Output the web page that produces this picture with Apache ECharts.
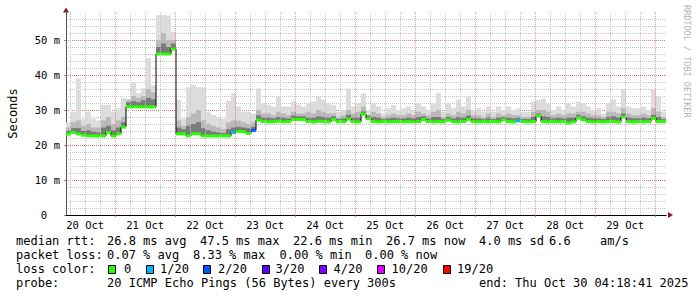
<!DOCTYPE html>
<html><head><meta charset="utf-8">
<script src="https://cdn.jsdelivr.net/npm/echarts@6/dist/echarts.min.js"></script>
<style>html,body{margin:0;padding:0;background:#fff}#c{width:697px;height:297px}</style>
</head><body><div id="c"></div>
<script>
// time in hours since 20 Oct 00:00; graph start = 20 Oct 04:18:41, 10 days, 2 h per bin
const START_HOUR = 4 + 18 / 60 + 41 / 3600;
const SPAN_HOURS = 240;
const STEP_HOURS = 2;

const median = [
  23.1, 23.6, 23.2, 22.8, 22.6, 22.6, 22.6, 22.6, 23.6, 22.6,
  23.2, 25.1, 30.9, 30.9, 30.9, 30.9, 30.9, 30.9, 46.0, 46.0,
  46.0, 47.4, 23.2, 23.2, 22.6, 23.2, 23.2, 22.6, 22.6, 22.6,
  22.6, 22.6, 22.6, 23.6, 23.9, 23.8, 23.3, 24.2, 27.1, 26.7,
  26.6, 26.7, 26.8, 26.6, 26.7, 27.3, 27.3, 27.3, 26.7, 26.6,
  26.8, 26.7, 26.6, 27.3, 26.7, 26.6, 27.4, 26.7, 26.6, 28.8,
  27.5, 26.7, 26.6, 26.7, 26.6, 26.7, 26.7, 26.6, 26.7, 26.6,
  26.7, 27.3, 26.7, 26.6, 26.7, 26.6, 27.1, 26.7, 26.6, 26.7,
  27.3, 26.7, 26.6, 26.7, 26.6, 26.7, 26.6, 27.2, 26.7, 26.6,
  26.9, 26.7, 26.6, 26.7, 28.3, 26.7, 26.6, 26.7, 26.6, 26.7,
  26.3, 26.6, 27.7, 27.2, 26.7, 26.6, 26.7, 26.6, 26.7, 26.7,
  26.6, 28.0, 26.7, 26.6, 26.7, 26.6, 26.7, 27.6, 26.7, 26.7
];
const smokeMax = [
  26.5, 29.5, 39.0, 27.5, 29.5, 27.6, 27.0, 31.5, 31.5, 29.5,
  30.5, 33.4, 32.4, 38.0, 34.8, 36.2, 44.8, 37.0, 57.1, 57.1,
  57.0, 52.4, 32.9, 27.5, 36.5, 37.2, 36.5, 36.5, 29.3, 28.6,
  28.0, 27.5, 32.6, 34.8, 31.0, 29.5, 29.5, 29.0, 36.2, 31.9,
  31.5, 31.0, 33.8, 31.0, 31.0, 32.4, 31.5, 31.0, 32.0, 32.4,
  33.8, 33.0, 32.0, 31.4, 29.5, 30.0, 36.2, 31.0, 32.0, 34.8,
  30.0, 32.0, 31.0, 29.0, 30.5, 31.4, 30.0, 30.5, 31.0, 30.0,
  32.0, 31.0, 30.0, 32.0, 34.8, 29.5, 32.0, 30.5, 33.0, 31.0,
  33.8, 30.0, 30.5, 29.5, 31.0, 29.5, 31.0, 30.0, 31.0, 30.0,
  30.5, 29.5, 29.5, 32.4, 32.9, 33.3, 31.9, 30.0, 31.0, 30.0,
  32.0, 31.0, 32.4, 32.0, 31.0, 30.0, 30.5, 29.0, 32.0, 33.0,
  31.0, 35.9, 31.0, 30.5, 30.5, 31.0, 30.0, 35.9, 33.8, 29.5
];
const smokeMid = [
  25.0, 26.5, 27.0, 25.5, 26.0, 25.0, 25.0, 27.0, 28.0, 26.0,
  27.0, 28.0, 33.0, 34.0, 33.5, 34.0, 36.0, 35.0, 50.0, 52.0,
  50.0, 50.0, 27.0, 25.5, 28.0, 29.0, 30.0, 27.0, 26.0, 25.5,
  25.0, 24.5, 26.5, 27.0, 27.0, 26.5, 26.0, 26.5, 30.0, 29.0,
  29.0, 28.5, 29.5, 29.0, 28.5, 29.5, 29.0, 29.0, 29.5, 29.0,
  30.0, 29.5, 29.0, 29.0, 28.0, 28.5, 30.0, 29.0, 29.5, 31.0,
  28.5, 29.5, 29.0, 28.0, 28.5, 29.0, 28.5, 28.5, 29.0, 28.5,
  29.5, 29.0, 28.5, 29.5, 30.0, 28.0, 29.0, 28.5, 29.5, 29.0,
  30.0, 28.5, 28.5, 28.0, 29.0, 28.0, 29.0, 28.5, 29.0, 28.5,
  28.5, 28.0, 28.0, 29.5, 30.0, 30.0, 29.5, 28.5, 29.0, 28.5,
  29.0, 29.0, 29.5, 29.5, 29.0, 28.5, 28.5, 28.0, 29.5, 29.5,
  29.0, 30.5, 29.0, 28.5, 28.5, 29.0, 28.5, 30.5, 29.5, 28.0
];
const smokeDark = [
  24.0, 24.8, 24.8, 24.0, 24.2, 23.8, 23.6, 25.0, 25.5, 24.2,
  25.0, 26.5, 32.2, 32.5, 32.2, 32.8, 33.5, 33.0, 48.0, 49.0,
  48.0, 49.0, 25.0, 24.5, 25.5, 26.0, 26.5, 24.8, 24.2, 23.8,
  23.6, 23.4, 24.5, 25.0, 25.2, 25.0, 24.8, 25.2, 28.5, 27.8,
  27.8, 27.6, 28.0, 27.8, 27.6, 28.4, 28.2, 28.2, 27.8, 27.8,
  28.2, 28.0, 27.8, 28.2, 27.4, 27.6, 28.6, 27.8, 27.8, 29.6,
  28.4, 28.0, 27.8, 27.4, 27.6, 27.8, 27.6, 27.6, 27.8, 27.6,
  28.0, 28.2, 27.6, 28.0, 28.0, 27.4, 28.0, 27.6, 28.0, 27.8,
  28.4, 27.6, 27.6, 27.4, 27.8, 27.4, 27.8, 28.0, 27.8, 27.6,
  27.8, 27.4, 27.4, 28.0, 29.0, 28.2, 28.0, 27.6, 27.8, 27.6,
  27.8, 27.8, 28.6, 28.2, 27.8, 27.6, 27.6, 27.4, 28.0, 28.2,
  27.8, 29.0, 27.8, 27.6, 27.6, 27.8, 27.6, 28.6, 28.0, 27.4
];
// lost pings (out of 20) per bin
const lossCount = [
  0,0,0,0,0,0,0,0,0,0, 0,0,0,0,0,0,0,0,0,0,
  0,0,0,0,0,0,0,0,0,0, 0,0,0,1,0,0,0,2,0,0,
  0,0,0,0,0,0,0,0,0,0, 0,0,0,0,0,0,0,0,0,0,
  0,0,0,0,0,0,0,0,0,0, 0,0,0,0,0,0,0,0,0,0,
  0,0,0,0,0,0,0,0,0,0, 1,0,0,0,0,0,0,0,0,0,
  0,0,0,0,0,0,0,0,0,0, 0,0,0,0,0,0,0,0,0,0
];

const dayLabels = ['20 Oct','21 Oct','22 Oct','23 Oct','24 Oct','25 Oct','26 Oct','27 Oct','28 Oct','29 Oct'];
const dayLabelHours = [12, 36, 60, 84, 108, 132, 156, 180, 204, 228];
const midnightHours = [24, 48, 72, 96, 120, 144, 168, 192, 216, 240];
const minorHours = [];
for (let h = 6; h < START_HOUR + SPAN_HOURS; h += 6) if (h % 24 !== 0) minorHours.push(h);

const lossLevels = [0, 1, 2, 3, 4, 10, 19];
const lossLabels = ['0', '1/20', '2/20', '3/20', '4/20', '10/20', '19/20'];
const lossColors = ['#26ff00', '#00b8ff', '#0059ff', '#5e00ff', '#7e00ff', '#dd00ff', '#ff0000'];

const legendLines = [
  [[16, 'median rtt:'], [107, '26.8 ms avg'], [200, '47.5 ms max'], [293, '22.6 ms min'], [386, '26.7 ms now'], [479, '4.0 ms sd'], [549, '6.6'], [600, 'am/s']],
  [[16, 'packet loss:'], [107, '0.07 % avg'], [193, '8.33 % max'], [279.5, '0.00 % min'], [365, '0.00 % now']],
  [[16, 'loss color:']],
  [[16, 'probe:'], [107, '20 ICMP Echo Pings (56 Bytes) every 300s'], [479, 'end: Thu Oct 30 04:18:41 2025']]
];
const lossBoxX = [108, 146, 203, 262, 319, 377, 443];
const lossTextX = [124, 160, 218, 275.5, 333.5, 391.5, 457];

const T0 = START_HOUR, T1 = START_HOUR + SPAN_HOURS;
const MONO = '"DejaVu Sans Mono", monospace';

const smokeData = median.map((m, i) => [T0 + i * STEP_HOURS, T0 + (i + 1) * STEP_HOURS, m, smokeMax[i], smokeMid[i], smokeDark[i]]);
const medData = median.map((m, i) => {
  let li = 0;
  lossLevels.forEach((lv, k) => { if (lossCount[i] >= lv) li = k; });
  return [T0 + i * STEP_HOURS, T0 + (i + 1) * STEP_HOURS, m, li];
});
const stepData = median.map((m, i) => [T0 + i * STEP_HOURS, m]);
stepData.push([T1, median[median.length - 1]]);

function renderSmoke(params, api) {
  const t0 = api.value(0), t1 = api.value(1), m = api.value(2);
  const layers = [[api.value(3), '#dcdcdc'], [api.value(4), '#b9b9b9'], [api.value(5), '#7a7a7a']];
  return {
    type: 'group',
    children: layers.map(([top, color]) => {
      const a = api.coord([t0, top]);
      const b = api.coord([t1, m]);
      return { type: 'rect', shape: { x: a[0], y: a[1], width: b[0] - a[0], height: b[1] - a[1] }, style: { fill: color } };
    })
  };
}
function renderMedian(params, api) {
  const a = api.coord([api.value(0), api.value(2)]);
  const b = api.coord([api.value(1), api.value(2)]);
  return { type: 'rect', shape: { x: a[0], y: a[1] - 1.5, width: b[0] - a[0], height: 3 }, style: { fill: lossColors[api.value(3)] } };
}

const RED_GRID = { color: 'rgba(230,60,60,0.55)', width: 1, type: [1, 1] };
const GRAY_GRID = { color: '#c4c4c4', width: 1, type: [1, 1] };
const ARROW = '#8b1c1c';

const vGridLines = minorHours.map(h => ({ xAxis: h, lineStyle: GRAY_GRID }))
  .concat(midnightHours.filter(h => h < T1).map(h => ({ xAxis: h, lineStyle: RED_GRID })));

const graphics = [];
legendLines.forEach((line, r) => {
  line.forEach(([x, t]) => {
    graphics.push({ type: 'text', x: x, y: 240.5 + r * 14, style: { text: t, font: '12px ' + MONO, fill: '#000', verticalAlign: 'middle' } });
  });
});
lossLabels.forEach((lab, k) => {
  graphics.push({ type: 'rect', shape: { x: lossBoxX[k] + 0.5, y: 265.5, width: 7, height: 8 }, style: { fill: lossColors[k], stroke: '#000', lineWidth: 1 } });
  graphics.push({ type: 'text', x: lossTextX[k], y: 268.5, style: { text: lab, font: '12px ' + MONO, fill: '#000', verticalAlign: 'middle' } });
});
graphics.push({ type: 'text', x: 687, y: 5, rotation: -Math.PI / 2, style: { text: 'RRDTOOL / TOBI OETIKER', font: '8.5px ' + MONO, fill: '#b4b4b4', verticalAlign: 'middle', align: 'left' } });

const chart = echarts.init(document.getElementById('c'), null, { renderer: 'svg' });
chart.setOption({
  animation: false,
  backgroundColor: '#fff',
  grid: { left: 66, right: 31, top: 12, bottom: 82, containLabel: false, outerBoundsMode: 'none' },
  xAxis: [
    {
      type: 'value', min: T0, max: T1, z: 1,
      axisLine: { show: true, lineStyle: { color: '#000', width: 1 } },
      axisTick: { show: true, customValues: midnightHours, length: 2, lineStyle: { color: 'rgba(230,60,60,0.8)' } },
      axisLabel: {
        customValues: dayLabelHours, margin: 4,
        formatter: v => dayLabels[dayLabelHours.indexOf(v)] || '',
        fontFamily: MONO, fontSize: 10.5, color: '#000'
      },
      splitLine: { show: false }
    },
    {
      type: 'value', min: T0, max: T1, z: 0,
      axisLine: { show: true, symbol: ['none', 'triangle'], symbolSize: [6, 5], symbolOffset: [0, 4.5], lineStyle: { color: ARROW } },
      axisTick: { show: false }, axisLabel: { show: false }, splitLine: { show: false }
    }
  ],
  yAxis: [
    {
      type: 'value', min: 0, max: 58, interval: 10, z: 1, position: 'left',
      name: 'Seconds', nameLocation: 'middle', nameGap: 47, nameRotate: 90,
      nameTextStyle: { fontFamily: MONO, fontSize: 12, color: '#000' },
      axisLine: { show: true, lineStyle: { color: '#555' } },
      axisTick: { show: true, length: 2, lineStyle: { color: 'rgba(230,60,60,0.8)' } },
      axisLabel: {
        margin: 6, fontFamily: MONO, fontSize: 10.5, color: '#000', showMaxLabel: false,
        formatter: v => (v === 0 ? '{z|0}' : (v % 10 === 0 ? v + ' m' : '')),
        rich: { z: { padding: [0, 13, 0, 0], fontFamily: MONO, fontSize: 10.5, color: '#000' } }
      },
      splitLine: { show: true, lineStyle: RED_GRID, showMinLine: false, showMaxLine: false }
    },
    {
      type: 'value', min: 0, max: 58, interval: 2, z: 0, position: 'left',
      axisLine: { show: false }, axisTick: { show: false }, axisLabel: { show: false },
      splitLine: { show: true, lineStyle: GRAY_GRID, showMinLine: false, showMaxLine: false }
    },
    {
      type: 'value', min: 0, max: 58, z: 0, position: 'left',
      axisLine: { show: true, symbol: ['none', 'triangle'], symbolSize: [6, 5], symbolOffset: [0, 2], lineStyle: { color: ARROW } },
      axisTick: { show: false }, axisLabel: { show: false }, splitLine: { show: false }
    }
  ],
  series: [
    {
      type: 'line', name: 'vgrid', data: [], z: 1, silent: true, symbol: 'none',
      markLine: { silent: true, symbol: ['none', 'none'], label: { show: false }, animation: false, data: vGridLines }
    },
    { type: 'custom', name: 'smoke', renderItem: renderSmoke, data: smokeData, encode: { x: [0, 1], y: [2, 3, 4, 5] }, z: 2, silent: true },
    { type: 'line', name: 'median step', data: stepData, step: 'end', symbol: 'none', lineStyle: { color: '#000', width: 1 }, z: 3, silent: true },
    { type: 'custom', name: 'median', renderItem: renderMedian, data: medData, encode: { x: [0, 1], y: 2 }, z: 4, silent: true }
  ],
  graphic: graphics
});
</script></body></html>
